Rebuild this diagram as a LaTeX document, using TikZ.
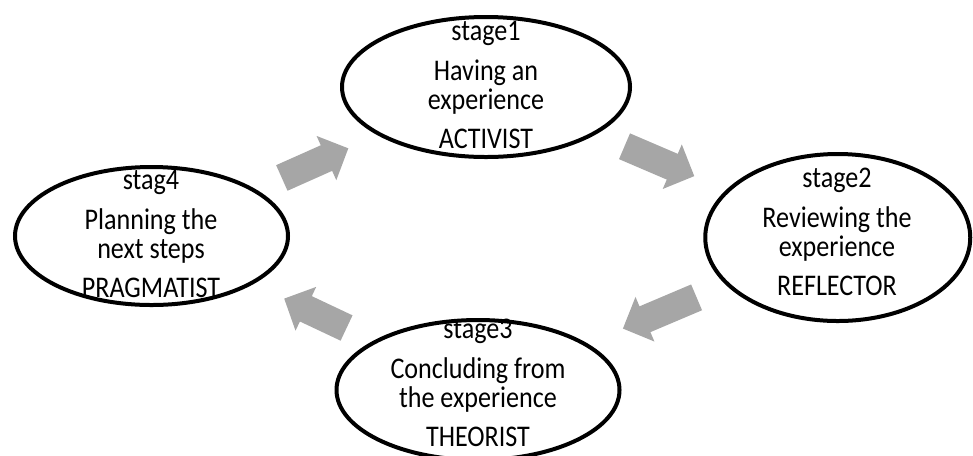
\documentclass[tikz,border=0pt]{standalone}
\usepackage{fontspec}
\setmainfont{Carlito}
\newfontfamily\stagefont[FakeStretch=0.87]{Carlito}
\usetikzlibrary{shapes.geometric,arrows.meta}
\definecolor{arrowgray}{RGB}{166,166,166}

\begin{document}
\begin{tikzpicture}[x=0.75pt,y=-0.75pt,
  stagebox/.style={ellipse, draw=black, line width=3pt, inner sep=0pt},
  stagetext/.style={align=center, inner sep=0pt, font=\stagefont\fontsize{22.5}{21.75}\selectfont},
  flow/.style={draw=arrowgray, line width=21pt, -{Triangle[width=35.25pt,length=18pt]}}]
  \useasboundingbox (0,0) rectangle (973,455);

  % the four stages
  \node[stagebox, minimum width=216pt, minimum height=105pt](S1) at (486,87){};
  \node[stagebox, minimum width=198.75pt, minimum height=125.25pt](S2) at (837.75,237.5){};
  \node[stagebox, minimum width=212.25pt, minimum height=105pt](S3) at (478,390){};
  \node[stagebox, minimum width=204.75pt, minimum height=103.5pt](S4) at (151.5,236){};

  \node[stagetext](T1) at (486,85){stage1\\[8pt]Having an\\experience\\[8pt]ACTIVIST};
  \node[stagetext](T2) at (837,232){stage2\\[8pt]Reviewing the\\experience\\[8pt]REFLECTOR};
  \node[stagetext](T3) at (478,383){stage3\\[8pt]Concluding from\\the experience\\[8pt]THEORIST};
  \node[stagetext](T4) at (151,234){stag4\\[8pt]Planning the\\next steps\\[8pt]PRAGMATIST};

  % cycle arrows
  \draw[flow, shorten <=107pt, shorten >=113pt] (S4.center) -- (S1.center);
  \draw[flow, shorten <=113pt, shorten >=117pt] (S1.center) -- (S2.center);
  \draw[flow, shorten <=115pt, shorten >=118pt] (S2.center) -- (S3.center);
  \draw[flow, shorten <=109pt, shorten >=110pt] (S3.center) -- (S4.center);
\end{tikzpicture}
\end{document}
